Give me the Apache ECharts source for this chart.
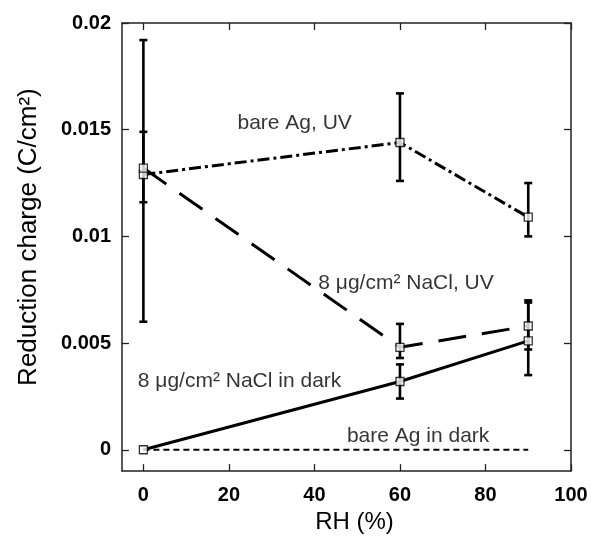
<!DOCTYPE html>
<html>
<head>
<meta charset="utf-8">
<script src="https://cdn.jsdelivr.net/npm/echarts@6/dist/echarts.min.js"></script>
<style>html,body{margin:0;padding:0;background:#fff;}#c{width:591px;height:539px;}</style>
</head>
<body>
<div id="c"></div>
<script>
// ---- data ----
const rh = [0, 60, 90];
const bareAgUV      = [0.0129, 0.0144, 0.0109];
const bareAgUVLow   = [0.0116, 0.0126, 0.0100];
const bareAgUVHigh  = [0.0149, 0.0167, 0.0125];
const naclUV        = [0.0132, 0.0048, 0.0058];
const naclUVLow     = [0.0060, 0.0043, 0.0047];
const naclUVHigh    = [0.0192, 0.0059, 0.0070];
const naclDark      = [0.0000, 0.0032, 0.0051];
const naclDarkLow   = [null,   0.0024, 0.0035];
const naclDarkHigh  = [null,   0.0040, 0.0069];
const rhBareDark    = [0, 90];
const bareAgDark    = [0, 0];
const xTicks = [0, 20, 40, 60, 80, 100];
const yTicks = [0, 0.005, 0.01, 0.015, 0.02];
const annotationText = ['bare Ag, UV', '8 μg/cm² NaCl, UV', '8 μg/cm² NaCl in dark', 'bare Ag in dark'];
const annotationX = [22, 40.9, -1.3, 47.6];
const annotationY = [0.0153, 0.0078, 0.0032, 0.00064];

const FONT = 'Liberation Sans, Arial, sans-serif';
const zip = (xs, ys) => xs.map((x, i) => [x, ys[i]]);
const errData = (lo, hi) => rh.map((x, i) => [x, lo[i], hi[i]]).filter(d => d[1] != null);

function errRender(params, api) {
  const x = api.value(0);
  const lo = api.coord([x, api.value(1)]);
  const hi = api.coord([x, api.value(2)]);
  const w = 4;
  const st = { stroke: '#000', lineWidth: 2.6 };
  return { type: 'group', children: [
    { type: 'line', shape: { x1: lo[0], y1: lo[1], x2: hi[0], y2: hi[1] }, style: st },
    { type: 'line', shape: { x1: lo[0] - w, y1: lo[1], x2: lo[0] + w, y2: lo[1] }, style: st },
    { type: 'line', shape: { x1: hi[0] - w, y1: hi[1], x2: hi[0] + w, y2: hi[1] }, style: st }
  ]};
}

const markerStyle = { color: '#fff', borderColor: '#000', borderWidth: 1.3 };
const axisLineStyle = { color: '#222', width: 1.5 };

const chart = echarts.init(document.getElementById('c'));
chart.setOption({
  animation: false,
  backgroundColor: '#fff',
  grid: { left: 122, right: 20, top: 23, bottom: 67 },
  xAxis: [{
    type: 'value', min: -5, max: 100, position: 'bottom',
    name: 'RH (%)', nameLocation: 'middle', nameGap: 38,
    nameTextStyle: { fontFamily: FONT, fontSize: 24, color: '#000', padding: [0, 0, 0, 16] },
    axisLine: { onZero: false, lineStyle: axisLineStyle },
    axisTick: { inside: true, length: 7, lineStyle: { color: '#222', width: 1.3 }, customValues: xTicks },
    axisLabel: { customValues: xTicks, margin: 14, fontFamily: FONT, fontSize: 20, fontWeight: 'bold', color: '#000' },
    splitLine: { show: false }
  }, {
    type: 'value', min: -5, max: 100, position: 'top',
    axisLine: { onZero: false, lineStyle: axisLineStyle },
    axisTick: { inside: true, length: 7, lineStyle: { color: '#222', width: 1.3 }, customValues: xTicks },
    axisLabel: { show: false }, splitLine: { show: false }
  }],
  yAxis: [{
    type: 'value', min: -0.001, max: 0.02, position: 'left',
    name: 'Reduction charge (C/cm²)', nameLocation: 'middle', nameGap: 80,
    nameTextStyle: { fontFamily: FONT, fontSize: 26, color: '#000', padding: [0, 0, 0, 20] },
    axisLine: { onZero: false, lineStyle: axisLineStyle },
    axisTick: { inside: true, length: 7, lineStyle: { color: '#222', width: 1.3 }, customValues: yTicks },
    axisLabel: { customValues: yTicks, margin: 11, fontFamily: FONT, fontSize: 20, fontWeight: 'bold', color: '#000',
      formatter: v => String(+(+v).toFixed(4)) },
    splitLine: { show: false }
  }, {
    type: 'value', min: -0.001, max: 0.02, position: 'right',
    axisLine: { onZero: false, lineStyle: axisLineStyle },
    axisTick: { inside: true, length: 7, lineStyle: { color: '#222', width: 1.3 }, customValues: yTicks },
    axisLabel: { show: false }, splitLine: { show: false }
  }],
  series: [
    { type: 'line', data: zip(rhBareDark, bareAgDark), symbol: 'none', z: 2,
      lineStyle: { color: '#000', width: 2, type: [6, 4] } },
    { type: 'line', data: zip(rh, naclDark), symbol: 'none', z: 2,
      lineStyle: { color: '#000', width: 3 } },
    { type: 'line', data: zip(rh, naclUV), symbol: 'none', z: 2,
      lineStyle: { color: '#000', width: 3, type: [28, 16] } },
    { type: 'line', data: zip(rh, bareAgUV), symbol: 'none', z: 2,
      lineStyle: { color: '#000', width: 3, type: [12, 4, 3, 4] } },
    { type: 'custom', renderItem: errRender, data: errData(bareAgUVLow, bareAgUVHigh), z: 3 },
    { type: 'custom', renderItem: errRender, data: errData(naclUVLow, naclUVHigh), z: 3 },
    { type: 'custom', renderItem: errRender, data: errData(naclDarkLow, naclDarkHigh), z: 3 },
    { type: 'scatter', data: zip(rh, bareAgUV), symbol: 'rect', symbolSize: 8, itemStyle: markerStyle, z: 5 },
    { type: 'scatter', data: zip(rh, naclUV), symbol: 'rect', symbolSize: 8, itemStyle: markerStyle, z: 5 },
    { type: 'scatter', data: zip(rh, naclDark), symbol: 'rect', symbolSize: 8, itemStyle: markerStyle, z: 5 },
    { type: 'scatter', symbolSize: 0, z: 6, silent: true,
      data: annotationText.map((t, i) => ({ value: [annotationX[i], annotationY[i]], name: t })),
      label: { show: true, position: 'right', distance: 0, formatter: p => p.name,
        fontFamily: FONT, fontSize: 21, color: '#000' } }
  ]
});
</script>
</body>
</html>
